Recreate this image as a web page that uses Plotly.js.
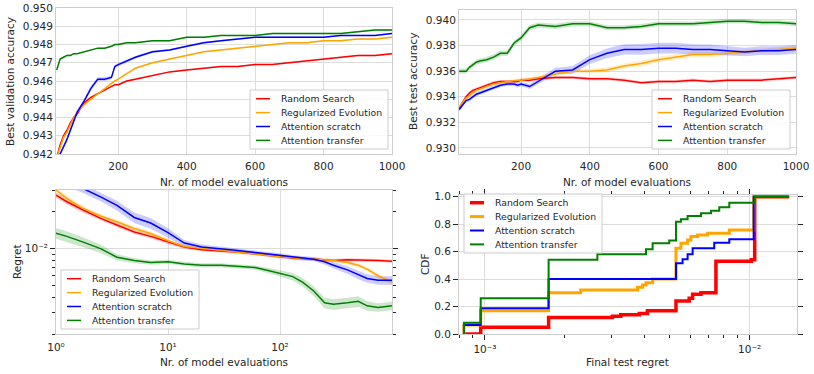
<!DOCTYPE html>
<html>
<head>
<meta charset="utf-8">
<script src="https://cdn.plot.ly/plotly-3.0.1.min.js"></script>
<style>
    body { margin: 0; background: #fff; }
    #chart { width: 814px; height: 374px; }
</style>
</head>
<body>
<div id="chart"></div>
<script>
// ---- series ----
const seriesNames = ['Random Search', 'Regularized Evolution', 'Attention scratch', 'Attention transfer'];
const seriesColors = ['#ff0000', '#ffa500', '#0000ff', '#008000'];
const seriesFills = ['rgba(255,0,0,0.2)', 'rgba(255,165,0,0.2)', 'rgba(0,0,255,0.2)', 'rgba(0,128,0,0.2)'];

// ---- top plots: number of model evaluations ----
const evals = [20, 30, 40, 50, 60, 70, 80, 100, 120, 140, 160, 180, 190, 200, 225, 250, 300, 350, 400, 450, 500, 550, 600, 650, 700, 750, 800, 850, 900, 950, 1000];

// best validation accuracy
const valRandom = [0.9418, 0.9425, 0.9430, 0.9433, 0.9437, 0.9440, 0.9442, 0.9448, 0.9451, 0.9453, 0.9455, 0.9457, 0.9458, 0.9458, 0.9460, 0.9461, 0.9463, 0.9465, 0.9466, 0.9467, 0.9468, 0.9468, 0.9469, 0.9469, 0.9470, 0.9471, 0.9472, 0.9473, 0.9474, 0.9474, 0.9475];
const valEvolution = [0.9418, 0.9424, 0.9429, 0.9432, 0.9436, 0.9440, 0.9443, 0.9447, 0.9450, 0.9453, 0.9456, 0.9459, 0.9460, 0.9461, 0.9464, 0.9467, 0.9470, 0.9472, 0.9474, 0.9476, 0.9477, 0.9478, 0.9479, 0.9480, 0.9481, 0.9481, 0.9482, 0.9482, 0.9483, 0.9483, 0.9484];
const valScratch = [0.9417, 0.9420, 0.9424, 0.9428, 0.9433, 0.9438, 0.9443, 0.9449, 0.9456, 0.9461, 0.9461, 0.9462, 0.9468, 0.9469, 0.9471, 0.9473, 0.9476, 0.9477, 0.9479, 0.9481, 0.9482, 0.9483, 0.9484, 0.9484, 0.9484, 0.9484, 0.9484, 0.9485, 0.9485, 0.9485, 0.9486];
const valTransfer = [0.9466, 0.9472, 0.9473, 0.9474, 0.9474, 0.9475, 0.9475, 0.9476, 0.9477, 0.9478, 0.9478, 0.9479, 0.9480, 0.9480, 0.9481, 0.9481, 0.9482, 0.9482, 0.9484, 0.9484, 0.9485, 0.9485, 0.9485, 0.9486, 0.9486, 0.9486, 0.9486, 0.9486, 0.9487, 0.9488, 0.9488];
// half width of the shaded band
const bandValRandom = [0.00010, 0.00010, 0.00009, 0.00008, 0.00008, 0.00007, 0.00007, 0.00006, 0.00006, 0.00006, 0.00005, 0.00005, 0.00005, 0.00005, 0.00005, 0.00005, 0.00004, 0.00004, 0.00004, 0.00004, 0.00004, 0.00004, 0.00004, 0.00004, 0.00004, 0.00004, 0.00004, 0.00004, 0.00004, 0.00004, 0.00004];
const bandValEvolution = [0.00010, 0.00010, 0.00010, 0.00009, 0.00008, 0.00008, 0.00007, 0.00007, 0.00006, 0.00006, 0.00006, 0.00005, 0.00005, 0.00005, 0.00005, 0.00005, 0.00004, 0.00004, 0.00004, 0.00004, 0.00004, 0.00004, 0.00004, 0.00004, 0.00004, 0.00004, 0.00004, 0.00004, 0.00004, 0.00004, 0.00004];
const bandValScratch = [0.00012, 0.00012, 0.00012, 0.00012, 0.00012, 0.00012, 0.00012, 0.00012, 0.00012, 0.00011, 0.00010, 0.00010, 0.00009, 0.00008, 0.00008, 0.00007, 0.00006, 0.00006, 0.00005, 0.00005, 0.00005, 0.00004, 0.00004, 0.00004, 0.00004, 0.00004, 0.00004, 0.00004, 0.00004, 0.00004, 0.00004];
const bandValTransfer = [0.00006, 0.00005, 0.00005, 0.00005, 0.00005, 0.00005, 0.00004, 0.00004, 0.00004, 0.00004, 0.00004, 0.00004, 0.00004, 0.00004, 0.00004, 0.00004, 0.00004, 0.00004, 0.00004, 0.00004, 0.00004, 0.00004, 0.00004, 0.00004, 0.00004, 0.00004, 0.00004, 0.00004, 0.00004, 0.00004, 0.00004];

// best test accuracy
const testRandom = [0.9331, 0.9336, 0.9340, 0.9343, 0.9345, 0.9346, 0.9347, 0.9349, 0.9351, 0.9352, 0.9352, 0.9352, 0.9352, 0.9353, 0.9353, 0.9354, 0.9355, 0.9355, 0.9354, 0.9354, 0.9353, 0.9351, 0.9352, 0.9352, 0.9353, 0.9352, 0.9353, 0.9353, 0.9353, 0.9354, 0.9355];
const testEvolution = [0.9332, 0.9336, 0.9339, 0.9341, 0.9343, 0.9345, 0.9346, 0.9348, 0.9350, 0.9351, 0.9352, 0.9353, 0.9353, 0.9353, 0.9354, 0.9355, 0.9358, 0.9360, 0.9360, 0.9361, 0.9364, 0.9366, 0.9369, 0.9371, 0.9373, 0.9373, 0.9374, 0.9375, 0.9376, 0.9377, 0.9378];
const testScratch = [0.9330, 0.9334, 0.9337, 0.9338, 0.9340, 0.9342, 0.9343, 0.9345, 0.9347, 0.9349, 0.9350, 0.9350, 0.9349, 0.9350, 0.9348, 0.9352, 0.9360, 0.9361, 0.9369, 0.9374, 0.9377, 0.9377, 0.9378, 0.9378, 0.9377, 0.9377, 0.9376, 0.9375, 0.9376, 0.9376, 0.9377];
const testTransfer = [0.9360, 0.9360, 0.9360, 0.9363, 0.9365, 0.9367, 0.9368, 0.9369, 0.9371, 0.9374, 0.9374, 0.9382, 0.9384, 0.9386, 0.9394, 0.9396, 0.9395, 0.9397, 0.9397, 0.9394, 0.9394, 0.9395, 0.9397, 0.9397, 0.9397, 0.9398, 0.9399, 0.9399, 0.9398, 0.9398, 0.9397];
const bandTestRandom = [0.00015, 0.00015, 0.00014, 0.00014, 0.00013, 0.00013, 0.00013, 0.00012, 0.00012, 0.00012, 0.00012, 0.00012, 0.00012, 0.00012, 0.00012, 0.00012, 0.00012, 0.00012, 0.00012, 0.00012, 0.00012, 0.00012, 0.00012, 0.00012, 0.00012, 0.00012, 0.00012, 0.00012, 0.00012, 0.00012, 0.00012];
const bandTestEvolution = [0.00015, 0.00015, 0.00014, 0.00014, 0.00013, 0.00013, 0.00013, 0.00012, 0.00012, 0.00012, 0.00012, 0.00012, 0.00012, 0.00012, 0.00013, 0.00014, 0.00015, 0.00016, 0.00017, 0.00018, 0.00020, 0.00021, 0.00022, 0.00022, 0.00022, 0.00021, 0.00020, 0.00019, 0.00018, 0.00017, 0.00016];
const bandTestScratch = [0.00016, 0.00016, 0.00016, 0.00016, 0.00016, 0.00016, 0.00016, 0.00016, 0.00016, 0.00016, 0.00016, 0.00016, 0.00017, 0.00018, 0.00020, 0.00022, 0.00026, 0.00030, 0.00034, 0.00038, 0.00040, 0.00042, 0.00042, 0.00042, 0.00040, 0.00038, 0.00036, 0.00034, 0.00034, 0.00034, 0.00034];
const bandTestTransfer = [0.00020, 0.00020, 0.00020, 0.00020, 0.00020, 0.00020, 0.00020, 0.00021, 0.00022, 0.00022, 0.00022, 0.00022, 0.00022, 0.00022, 0.00020, 0.00020, 0.00020, 0.00020, 0.00018, 0.00018, 0.00018, 0.00018, 0.00018, 0.00018, 0.00018, 0.00018, 0.00018, 0.00018, 0.00018, 0.00018, 0.00018];

// ---- bottom left: regret vs evaluations (log-log) ----
const regretEvals = [1, 1.25, 1.75, 2.5, 3.5, 5, 7, 10, 14, 20, 30, 40, 60, 80, 100, 130, 160, 200, 250, 300, 400, 500, 600, 750, 1000];
const regretRandom = [0.0274, 0.0242, 0.0207, 0.0177, 0.0156, 0.0137, 0.0126, 0.0113, 0.0103, 0.0098, 0.0096, 0.0094, 0.0091, 0.0088, 0.0086, 0.0084, 0.0083, 0.0082, 0.0081, 0.0080, 0.0081, 0.0081, 0.0080, 0.0080, 0.0079];
const regretEvolution = [0.0301, 0.0258, 0.0213, 0.0185, 0.0166, 0.0146, 0.0133, 0.0116, 0.0104, 0.0100, 0.0097, 0.0094, 0.0091, 0.0088, 0.0086, 0.0084, 0.0083, 0.0082, 0.0081, 0.0080, 0.0077, 0.0073, 0.0068, 0.0060, 0.0053];
const regretScratch = [0.038, 0.035, 0.031, 0.0265, 0.0226, 0.0180, 0.0162, 0.0135, 0.0111, 0.0103, 0.0100, 0.0097, 0.0093, 0.0090, 0.0088, 0.0085, 0.0083, 0.0082, 0.0078, 0.0073, 0.0067, 0.0061, 0.0057, 0.0055, 0.0055];
const regretTransfer = [0.0134, 0.0126, 0.0113, 0.0100, 0.0085, 0.0080, 0.0077, 0.0078, 0.0075, 0.0073, 0.0073, 0.0072, 0.0070, 0.0066, 0.0063, 0.0059, 0.0053, 0.0045, 0.0036, 0.0035, 0.0036, 0.0037, 0.0034, 0.0033, 0.0034];
// relative half width of the shaded band
const bandRegRandom = [0.05, 0.05, 0.05, 0.04, 0.04, 0.04, 0.04, 0.04, 0.03, 0.03, 0.03, 0.03, 0.03, 0.03, 0.03, 0.03, 0.03, 0.03, 0.03, 0.03, 0.03, 0.03, 0.03, 0.03, 0.03];
const bandRegEvolution = [0.05, 0.05, 0.05, 0.04, 0.04, 0.04, 0.04, 0.04, 0.03, 0.03, 0.03, 0.03, 0.03, 0.03, 0.03, 0.03, 0.03, 0.03, 0.03, 0.03, 0.04, 0.04, 0.04, 0.04, 0.04];
const bandRegScratch = [0.08, 0.08, 0.08, 0.08, 0.09, 0.10, 0.10, 0.09, 0.06, 0.05, 0.04, 0.04, 0.04, 0.04, 0.04, 0.04, 0.04, 0.04, 0.05, 0.06, 0.07, 0.08, 0.08, 0.08, 0.08];
const bandRegTransfer = [0.10, 0.10, 0.09, 0.08, 0.06, 0.05, 0.04, 0.04, 0.04, 0.04, 0.04, 0.04, 0.04, 0.05, 0.06, 0.07, 0.08, 0.09, 0.10, 0.10, 0.10, 0.10, 0.09, 0.08, 0.08];

// ---- bottom right: CDF of final test regret (step points) ----
const cdfRandomX = [8.33e-4, 9.64e-4, 1.74e-3, 3.03e-3, 3.26e-3, 3.83e-3, 4.11e-3, 5.27e-3, 5.91e-3, 6.09e-3, 6.55e-3, 7.46e-3, 1.015e-2, 1.045e-2, 1.41e-2];
const cdfRandomY = [0, 0.05, 0.12, 0.13, 0.14, 0.15, 0.17, 0.24, 0.26, 0.29, 0.30, 0.53, 0.54, 1.0, 1.0];
const cdfEvolutionX = [8.33e-4, 8.33e-4, 9.64e-4, 1.74e-3, 2.30e-3, 3.77e-3, 3.94e-3, 4.06e-3, 4.30e-3, 5.27e-3, 5.50e-3, 5.83e-3, 6.0e-3, 6.36e-3, 6.94e-3, 8.38e-3, 1.036e-2, 1.41e-2];
const cdfEvolutionY = [0, 0.066, 0.17, 0.30, 0.32, 0.34, 0.357, 0.374, 0.40, 0.624, 0.66, 0.684, 0.709, 0.72, 0.733, 0.757, 1.0, 1.0];
const cdfScratchX = [8.33e-4, 8.33e-4, 9.64e-4, 1.74e-3, 5.27e-3, 5.58e-3, 5.83e-3, 6.09e-3, 7.35e-3, 8.38e-3, 1.036e-2, 1.41e-2];
const cdfScratchY = [0, 0.066, 0.187, 0.40, 0.515, 0.544, 0.58, 0.624, 0.665, 0.689, 1.0, 1.0];
const cdfTransferX = [8.33e-4, 8.33e-4, 9.64e-4, 1.74e-3, 2.66e-3, 4.06e-3, 4.30e-3, 4.97e-3, 5.27e-3, 5.50e-3, 5.83e-3, 6.55e-3, 7.15e-3, 7.68e-3, 8.38e-3, 1.045e-2, 1.41e-2];
const cdfTransferY = [0, 0.082, 0.26, 0.54, 0.58, 0.617, 0.66, 0.68, 0.818, 0.835, 0.86, 0.879, 0.898, 0.922, 0.956, 1.0, 1.0];

// ---- look ----
const W = 814, H = 374;
const FONT = 'DejaVu Sans';
const TEXT = '#262626';
const GRID = '#dcdcdc';
const FRAME = '#cccccc';

window.onload = buildCharts;

// pixel -> paper fraction
function px(x) { return x / W; }
function py(y) { return 1 - y / H; }

function lineTrace(x, y, i, width, xa, ya, shape) {
    return {
        x: x, y: y, mode: 'lines', name: seriesNames[i],
        line: {color: seriesColors[i], width: width, shape: shape || 'linear'},
        xaxis: xa, yaxis: ya, showlegend: false
    };
}

// closed polygon around a curve; relative=true for log axes
function bandTrace(x, y, spread, i, xa, ya, relative) {
    var upper = y.map(function (v, k) { return relative ? v * (1 + spread[k]) : v + spread[k]; });
    var lower = y.map(function (v, k) { return relative ? v * (1 - spread[k]) : v - spread[k]; });
    return {
        x: x.concat(x.slice().reverse()),
        y: upper.concat(lower.slice().reverse()),
        mode: 'lines', fill: 'toself', fillcolor: seriesFills[i],
        line: {width: 0}, hoverinfo: 'skip', showlegend: false,
        xaxis: xa, yaxis: ya
    };
}

// matplotlib style legend box, drawn with shapes + annotations
function legendBox(left, top, widths, shapes, notes) {
    shapes.push({
        type: 'rect', xref: 'paper', yref: 'paper', layer: 'above',
        x0: px(left), x1: px(left + 138), y0: py(top + 59), y1: py(top),
        fillcolor: 'rgba(255,255,255,0.85)', line: {color: FRAME, width: 1}
    });
    seriesNames.forEach(function (name, i) {
        var rowY = top + 8.7 + i * 13.9;
        shapes.push({
            type: 'line', xref: 'paper', yref: 'paper', layer: 'above',
            x0: px(left + 6), x1: px(left + 20), y0: py(rowY), y1: py(rowY),
            line: {color: seriesColors[i], width: widths[i]}
        });
        notes.push({
            xref: 'paper', yref: 'paper', x: px(left + 29), y: py(rowY),
            xanchor: 'left', yanchor: 'middle', showarrow: false, text: name,
            font: {family: FONT, size: 9.3, color: TEXT}
        });
    });
}

function axisTitle(text, x, y, vertical, notes) {
    notes.push({
        xref: 'paper', yref: 'paper', x: px(x), y: py(y),
        xanchor: 'center', yanchor: 'middle', showarrow: false, text: text,
        textangle: vertical ? -90 : 0,
        font: {family: FONT, size: 10.5, color: TEXT}
    });
}

function baseAxis(extra) {
    var a = {
        showline: true, mirror: true, linecolor: FRAME, linewidth: 1,
        showgrid: true, gridcolor: GRID, gridwidth: 1, zeroline: false,
        ticks: '', tickfont: {family: FONT, size: 10.5, color: TEXT},
        fixedrange: true
    };
    for (var k in extra) { a[k] = extra[k]; }
    return a;
}

function buildCharts() {
    var data = [];
    var valSeries = [valRandom, valEvolution, valScratch, valTransfer];
    var valBands = [bandValRandom, bandValEvolution, bandValScratch, bandValTransfer];
    var testSeries = [testRandom, testEvolution, testScratch, testTransfer];
    var testBands = [bandTestRandom, bandTestEvolution, bandTestScratch, bandTestTransfer];
    var regSeries = [regretRandom, regretEvolution, regretScratch, regretTransfer];
    var regBands = [bandRegRandom, bandRegEvolution, bandRegScratch, bandRegTransfer];
    var cdfX = [cdfRandomX, cdfEvolutionX, cdfScratchX, cdfTransferX];
    var cdfY = [cdfRandomY, cdfEvolutionY, cdfScratchY, cdfTransferY];
    var cdfWidths = [3.5, 3, 2, 2];

    for (let i = 0; i < 4; i++) {
        data.push(bandTrace(evals, valSeries[i], valBands[i], i, 'x', 'y', false));
        data.push(bandTrace(evals, testSeries[i], testBands[i], i, 'x2', 'y2', false));
        data.push(bandTrace(regretEvals, regSeries[i], regBands[i], i, 'x3', 'y3', true));
    }
    for (let i = 0; i < 4; i++) {
        data.push(lineTrace(evals, valSeries[i], i, 1.5, 'x', 'y'));
        data.push(lineTrace(evals, testSeries[i], i, 1.5, 'x2', 'y2'));
        data.push(lineTrace(regretEvals, regSeries[i], i, 1.5, 'x3', 'y3'));
        data.push(lineTrace(cdfX[i], cdfY[i], i, cdfWidths[i], 'x4', 'y4', 'hv'));
    }

    var shapes = [], notes = [];
    legendBox(250, 90, [1.5, 1.5, 1.5, 1.5], shapes, notes);
    legendBox(652, 90, [1.5, 1.5, 1.5, 1.5], shapes, notes);
    legendBox(61, 270, [1.5, 1.5, 1.5, 1.5], shapes, notes);
    legendBox(464, 194, [3.5, 3, 2, 2], shapes, notes);

    axisTitle('Best validation accuracy', 10, 82, true, notes);
    axisTitle('Nr. of model evaluations', 224, 182, false, notes);
    axisTitle('Best test accuracy', 413, 82, true, notes);
    axisTitle('Nr. of model evaluations', 627, 182, false, notes);
    axisTitle('Regret', 17, 262, true, notes);
    axisTitle('Nr. of model evaluations', 224, 362, false, notes);
    axisTitle('CDF', 425, 265, true, notes);
    axisTitle('Final test regret', 627, 362, false, notes);

    var stepTicks = [200, 400, 600, 800, 1000];
    var minorRegret = [0.002, 0.003, 0.004, 0.005, 0.006, 0.007, 0.008, 0.009, 0.02, 0.03];
    var minorCdf = [0.0008, 0.0009, 0.002, 0.003, 0.004, 0.005, 0.006, 0.007, 0.008, 0.009];
    var darkTicks = {ticks: 'outside', ticklen: 5, tickwidth: 1, tickcolor: TEXT, mirror: 'allticks'};

    const layout = {
        width: W,
        height: H,
        margin: {l: 0, r: 0, t: 0, b: 0},
        paper_bgcolor: '#ffffff',
        plot_bgcolor: '#ffffff',
        font: {family: FONT, size: 10.5, color: TEXT},
        showlegend: false,
        xaxis: baseAxis({domain: [px(56), px(392)], range: [18, 1000], tickvals: stepTicks, ticklabelstandoff: 2, anchor: 'y'}),
        yaxis: baseAxis({domain: [py(154), py(8)], range: [0.942, 0.950], dtick: 0.001, tickformat: '.3f', anchor: 'x'}),
        xaxis2: baseAxis({domain: [px(459), px(796)], range: [19.5, 1000], tickvals: stepTicks, ticklabelstandoff: 2, anchor: 'y2'}),
        yaxis2: baseAxis({domain: [py(154), py(10)], range: [0.92953, 0.94078], tickvals: [0.930, 0.932, 0.934, 0.936, 0.938, 0.940], tickformat: '.3f', anchor: 'x2'}),
        xaxis3: baseAxis({domain: [px(56), px(392)], type: 'log', range: [0, 3], ticklabelstandoff: 3,
            tickvals: [1, 10, 100], ticktext: ['10\u2070', '10\u00b9', '10\u00b2'], anchor: 'y3'}),
        yaxis3: baseAxis(Object.assign({domain: [py(334), py(190)], type: 'log',
            range: [Math.log10(0.002), Math.log10(0.0302)],
            tickvals: [0.01], ticktext: ['10\u207b\u00b2'], anchor: 'x3',
            minor: {tickvals: minorRegret, ticks: 'outside', ticklen: 3, tickcolor: TEXT, showgrid: false}}, darkTicks)),
        xaxis4: baseAxis(Object.assign({domain: [px(459), px(797)], type: 'log', range: [-3.098, -1.821],
            tickvals: [0.001, 0.01], ticktext: ['10\u207b\u00b3', '10\u207b\u00b2'], anchor: 'y4',
            minor: {tickvals: minorCdf, ticks: 'outside', ticklen: 3, tickcolor: TEXT, showgrid: false}}, darkTicks)),
        yaxis4: baseAxis(Object.assign({domain: [py(334), py(195)], range: [0, 1.012],
            tickvals: [0, 0.2, 0.4, 0.6, 0.8, 1.0], tickformat: '.1f', anchor: 'x4'}, darkTicks)),
        shapes: shapes,
        annotations: notes
    };

    Plotly.newPlot('chart', data, layout, {staticPlot: true});
}
</script>
</body>
</html>
